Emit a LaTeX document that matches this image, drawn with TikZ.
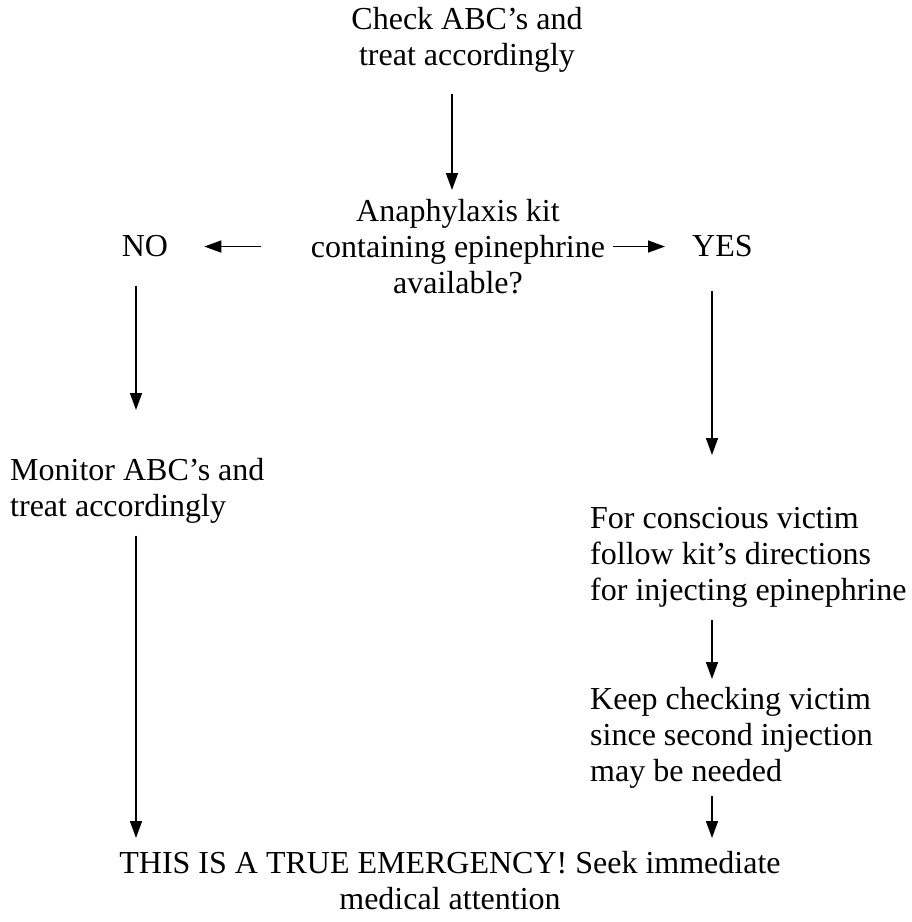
\documentclass[tikz,border=0pt]{standalone}
\usepackage{fontspec}
\setmainfont{Liberation Serif}
\usetikzlibrary{arrows.meta}
\begin{document}
\begin{tikzpicture}[x=1pt,y=-1pt,
  txt/.style={font=\fontsize{32}{36}\selectfont, inner sep=0pt},
  arr/.style={line width=1.6pt, -{Triangle[length=17pt,width=12pt]}}]
\useasboundingbox (0,0) rectangle (912,922);
% columns of the vertical connectors
\coordinate (colA) at (452,0);
\coordinate (colL) at (136,0);
\coordinate (colR) at (712,0);
% texts
\node[txt, align=center, anchor=north] (check) at (467,7) {Check ABC’s and\\treat accordingly};
\node[txt, align=center, anchor=north] (kit) at (458,199) {Anaphylaxis kit\\containing epinephrine\\available?};
\node[txt, anchor=base] (no) at (145,256) {NO};
\node[txt, anchor=base west] (yes) at (692,256) {YES};
\node[txt, align=left, anchor=north west] (monitor) at (10,458) {Monitor ABC’s and\\treat accordingly};
\node[txt, align=left, anchor=north west] (inject) at (590,507) {For conscious victim\\follow kit’s directions\\for injecting epinephrine};
\node[txt, align=left, anchor=north west] (keep) at (590,687) {Keep checking victim\\since second injection\\may be needed};
\node[txt, align=center, anchor=north] (emerg) at (450,851) {THIS IS A TRUE EMERGENCY! Seek immediate\\medical attention};
% connectors
\draw[arr, shorten <=21pt, shorten >=9pt] (check.south -| colA) -- (kit.north -| colA);
\draw[arr, shorten <=50pt, shorten >=36pt] (kit.west) -- (no.east |- kit.west);
\draw[arr, shorten <=8pt, shorten >=27pt] (kit.east) -- (yes.west |- kit.east);
\draw[arr, shorten <=29pt, shorten >=48pt] (no.south -| colL) -- (monitor.north -| colL);
\draw[arr, shorten <=34pt, shorten >=52pt] (yes.south -| colR) -- (inject.north -| colR);
\draw[arr, shorten <=12pt, shorten >=8pt] (inject.south -| colR) -- (keep.north -| colR);
\draw[arr, shorten <=12pt, shorten >=13pt] (monitor.south -| colL) -- (emerg.north -| colL);
\draw[arr, shorten <=7pt, shorten >=13pt] (keep.south -| colR) -- (emerg.north -| colR);
\end{tikzpicture}
\end{document}
